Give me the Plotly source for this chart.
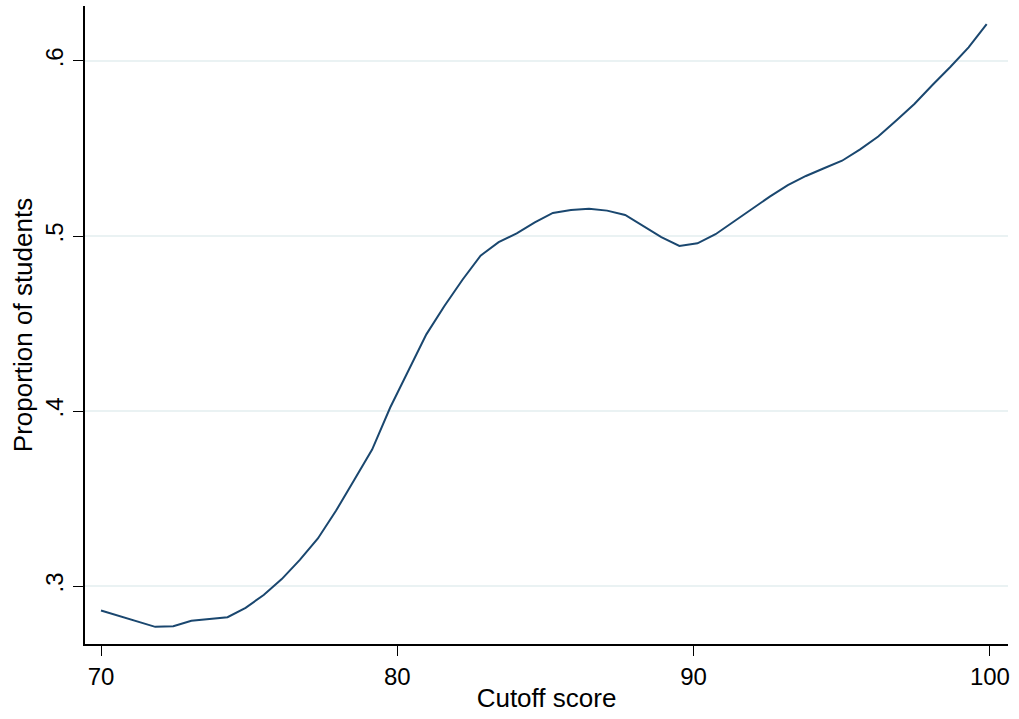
import plotly.graph_objects as go

# Cutoff score and the share of students at or above it
cutoff = [70.00, 70.61, 71.22, 71.83, 72.44, 73.05, 73.66, 74.27, 74.88, 75.49,
          76.10, 76.71, 77.32, 77.93, 78.54, 79.15, 79.76, 80.37, 80.98, 81.59,
          82.20, 82.81, 83.42, 84.03, 84.64, 85.25, 85.86, 86.47, 87.08, 87.69,
          88.30, 88.91, 89.52, 90.13, 90.74, 91.35, 91.96, 92.57, 93.18, 93.79,
          94.40, 95.01, 95.62, 96.23, 96.84, 97.45, 98.06, 98.67, 99.28, 99.89]
proportion = [0.2860, 0.2828, 0.2798, 0.2767, 0.2770, 0.2802, 0.2812, 0.2822, 0.2876, 0.2949,
              0.3040, 0.3150, 0.3272, 0.3430, 0.3605, 0.3780, 0.4020, 0.4230, 0.4438, 0.4600,
              0.4750, 0.4888, 0.4965, 0.5015, 0.5078, 0.5132, 0.5149, 0.5156, 0.5145, 0.5120,
              0.5057, 0.4993, 0.4943, 0.4958, 0.5010, 0.5082, 0.5149, 0.5225, 0.5291, 0.5343,
              0.5387, 0.5430, 0.5495, 0.5568, 0.5660, 0.5754, 0.5863, 0.5967, 0.6078, 0.6211]

x_ticks = [70, 80, 90, 100]
y_ticks = [0.3, 0.4, 0.5, 0.6]
y_tick_labels = [".3", ".4", ".5", ".6"]

font_family = "Liberation Sans, Arial, sans-serif"

fig = go.Figure(
    go.Scatter(
        x=cutoff,
        y=proportion,
        mode="lines",
        line=dict(color="#1a476f", width=2),
        showlegend=False,
    )
)

fig.update_layout(
    width=1019,
    height=719,
    margin=dict(l=85, r=11, t=6, b=75),
    paper_bgcolor="white",
    plot_bgcolor="white",
    font=dict(family=font_family, color="black", size=24),
)

fig.update_xaxes(
    range=[69.46, 100.61],
    tickvals=x_ticks,
    ticks="outside",
    ticklen=10,
    tickwidth=1.3,
    tickcolor="black",
    showline=True,
    linecolor="black",
    linewidth=1.5,
    showgrid=False,
    zeroline=False,
    tickfont=dict(size=24),
    ticklabelstandoff=0,
    title=dict(text="Cutoff score", font=dict(size=26), standoff=0),
)

fig.update_yaxes(
    range=[0.2669, 0.6314],
    tickvals=y_ticks,
    ticktext=y_tick_labels,
    tickangle=-90,
    ticks="outside",
    ticklen=10,
    tickwidth=1.3,
    tickcolor="black",
    showline=True,
    linecolor="black",
    linewidth=1.5,
    showgrid=True,
    gridcolor="#eaf2f3",
    gridwidth=1.5,
    zeroline=False,
    tickfont=dict(size=24),
    ticklabelstandoff=1,
    title=dict(text="Proportion of students", font=dict(size=26), standoff=1),
)

fig.write_html("out.html")
